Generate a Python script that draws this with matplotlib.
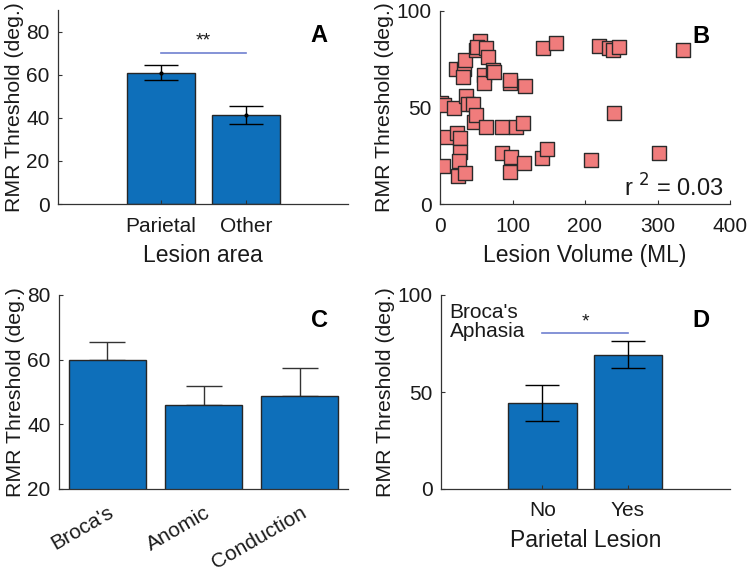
import matplotlib
matplotlib.use("Agg")
import matplotlib.pyplot as plt
import numpy as np

plt.rcParams['font.family'] = ['Liberation Sans', 'DejaVu Sans']

# Panel A
a_cats = ["Parietal", "Other"]
a_vals = [61.0, 41.3]
a_err = [3.6, 4.2]

# Panel B scatter
b_vol = [0.9, 5.5, 19, 3.7, 10, 24, 28, 28, 26.6, 25, 35, 22, 33, 32, 34, 36, 39, 46, 47, 50,
         49.5, 55, 50.5, 64, 65.6, 60, 60.5, 72.5, 74, 63, 86, 86, 98.6, 96, 97, 97, 105.5, 114,
         117, 116, 141, 148, 142, 160, 208.7, 219, 233, 238.5, 247, 239.4, 302, 335]
b_thr = [52.2, 51.3, 50, 19.9, 34.9, 36.6, 34, 27, 22.5, 14.7, 15.9, 69.8, 69.8, 66, 74.6, 56,
         51.8, 51.8, 42.7, 46, 80, 84.6, 81.5, 80.7, 76.3, 66.8, 62.5, 69.4, 68.6, 40, 39.7, 26.6,
         24.2, 62.9, 64.2, 16.8, 39.7, 42, 61, 21, 23.7, 28.3, 81, 83.6, 23, 81.9, 81, 80, 81.5,
         47.3, 26.3, 79.8]

# Panel C
c_cats = ["Broca's", "Anomic", "Conduction"]
c_vals = [59.9, 45.9, 48.8]
c_err = [5.7, 6.1, 8.5]

# Panel D
d_cats = ["No", "Yes"]
d_vals = [44.3, 69.3]
d_err = [9.1, 7.0]

bar_color = "#0E6FBA"
edge_color = "#262626"
sig_color = "#7080D0"
text_color = "#1a1a1a"
tick_fs = 15
label_fs = 16.5
ylabel_fs = 15.3
letter_fs = 17

fig = plt.figure(figsize=(7.49, 5.70), dpi=100)
W, H = 749, 570

def add_ax(l, t, r, b):
    return fig.add_axes([l / W, 1 - b / H, (r - l) / W, (b - t) / H])

def style(ax):
    for s in ["top", "right"]:
        ax.spines[s].set_visible(False)
    for s in ["left", "bottom"]:
        ax.spines[s].set_color("#333333")
        ax.spines[s].set_linewidth(0.9)
    ax.tick_params(direction="in", labelsize=tick_fs, colors="#333333", labelcolor=text_color,
                   length=3, width=0.8)
    ax.tick_params(axis='y', pad=6)
    ax.tick_params(axis='x', pad=9)

# ---- A ----
axA = add_ax(58, 10, 348, 204)
xa = np.arange(1, len(a_cats) + 1)
axA.bar(xa, a_vals, width=0.8, color=bar_color, edgecolor=edge_color, linewidth=1.0)
axA.errorbar(xa, a_vals, yerr=a_err, fmt='.', color='black', ms=4, capsize=12, elinewidth=1, capthick=1)
axA.set_xlim(-0.21, 3.2)
axA.set_ylim(0, 90)
axA.set_yticks([0, 20, 40, 60, 80])
axA.set_xticks(xa)
axA.set_xticklabels(a_cats)
axA.set_xlabel("Lesion area", fontsize=label_fs, labelpad=6, color=text_color)
axA.set_ylabel("RMR Threshold (deg.)", fontsize=ylabel_fs, labelpad=2, color=text_color)
axA.plot([1, 2], [70.2, 70.2], color=sig_color, lw=1.2)
axA.text(1.5, 71.5, "**", ha='center', va='bottom', fontsize=14, color=text_color)
axA.text(0.93, 0.93, "A", transform=axA.transAxes, ha='right', va='top', fontsize=letter_fs, fontweight='bold')
style(axA)

# ---- B ----
axB = add_ax(440, 11, 730, 204)
axB.scatter(b_vol, b_thr, marker='s', s=95, facecolor='#F07C7C', edgecolor='#2a2a2a', linewidth=1.0, zorder=3)
axB.set_xlim(0, 400)
axB.set_ylim(0, 100)
axB.set_xticks([0, 100, 200, 300, 400])
axB.set_yticks([0, 50, 100])
axB.set_xlabel("Lesion Volume (ML)", fontsize=label_fs, labelpad=6, color=text_color)
axB.set_ylabel("RMR Threshold (deg.)", fontsize=ylabel_fs, labelpad=2, color=text_color)
axB.text(0.98, 0.015, r"r $^{2}$ = 0.03", transform=axB.transAxes, ha='right', va='bottom', fontsize=17, color=text_color)
axB.text(0.93, 0.93, "B", transform=axB.transAxes, ha='right', va='top', fontsize=letter_fs, fontweight='bold')
style(axB)

# ---- C ----
axC = add_ax(59, 295, 348, 489)
xc = np.arange(1, len(c_cats) + 1)
axC.bar(xc, c_vals, width=0.8, color=bar_color, edgecolor=edge_color, linewidth=1.0, zorder=2)
axC.errorbar(xc, c_vals, yerr=[np.zeros(len(c_err)), c_err], fmt='none', ecolor='#333333',
             capsize=13, elinewidth=1, capthick=1, zorder=1)
axC.set_xlim(0.5, 3.5)
axC.set_ylim(20, 80)
axC.set_yticks([20, 40, 60, 80])
axC.set_xticks(xc)
axC.set_xticklabels(c_cats, rotation=30, ha='right', rotation_mode='anchor')
axC.set_ylabel("RMR Threshold (deg.)", fontsize=ylabel_fs, labelpad=2, color=text_color)
axC.text(0.93, 0.93, "C", transform=axC.transAxes, ha='right', va='top', fontsize=letter_fs, fontweight='bold')
style(axC)
axC.tick_params(axis='x', length=0, pad=10)

# ---- D ----
axD = add_ax(441, 295, 730, 489)
xd = np.arange(1, len(d_cats) + 1)
axD.bar(xd, d_vals, width=0.8, color=bar_color, edgecolor=edge_color, linewidth=1.0)
axD.errorbar(xd, d_vals, yerr=d_err, fmt='none', ecolor='black', capsize=12, elinewidth=1, capthick=1)
axD.set_xlim(-0.19, 3.2)
axD.set_ylim(0, 100)
axD.set_yticks([0, 50, 100])
axD.set_xticks(xd)
axD.set_xticklabels(d_cats)
axD.set_xlabel("Parietal Lesion", fontsize=label_fs, labelpad=6, color=text_color)
axD.set_ylabel("RMR Threshold (deg.)", fontsize=ylabel_fs, labelpad=2, color=text_color)
axD.plot([1, 2], [80.5, 80.5], color=sig_color, lw=1.2)
axD.text(1.5, 81.5, "*", ha='center', va='bottom', fontsize=14, color=text_color)
axD.text(0.03, 0.96, "Broca's\nAphasia", transform=axD.transAxes, ha='left', va='top', fontsize=tick_fs,
         linespacing=1.0, color=text_color)
axD.text(0.93, 0.93, "D", transform=axD.transAxes, ha='right', va='top', fontsize=letter_fs, fontweight='bold')
style(axD)

fig.savefig("out.png", dpi=100)
